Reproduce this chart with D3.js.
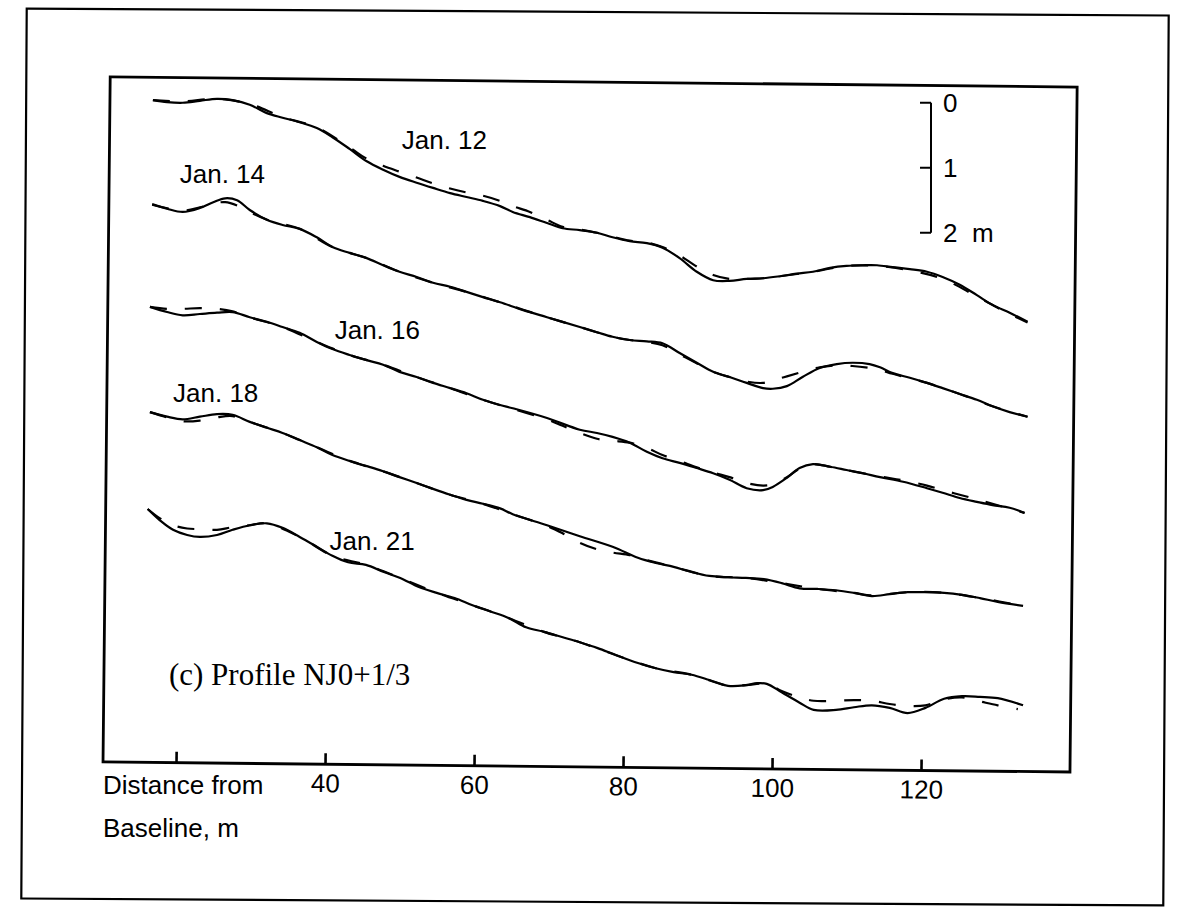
<!DOCTYPE html>
<html>
<head>
<meta charset="utf-8">
<script src="https://cdn.jsdelivr.net/npm/d3@7"></script>
<style>
  html, body { margin: 0; padding: 0; background: #fff; }
  svg { display: block; }
  .sans { font-family: "Liberation Sans", Arial, Helvetica, sans-serif; font-size: 26px; fill: #000; }
  .serif { font-family: "Liberation Serif", "Times New Roman", serif; font-size: 31px; fill: #000; }
</style>
</head>
<body>
<div id="chart"></div>
<script>
// Profiles: [distance from baseline (m), plotted depth (m)].
const dates = ["Jan. 12", "Jan. 14", "Jan. 16", "Jan. 18", "Jan. 21"];

const jan12Solid = [[16.9,0.31],[18.8,0.34],[20.9,0.35],[23.2,0.32],[25.5,0.29],[27.6,0.31],[29.9,0.38],[32.2,0.51],[34.3,0.58],[36.6,0.65],[38.9,0.74],[41.0,0.88],[43.3,1.06],[45.6,1.25],[47.8,1.38],[50.0,1.49],[52.3,1.58],[54.5,1.66],[56.8,1.74],[59.0,1.80],[61.2,1.86],[63.5,1.94],[65.2,2.03],[67.5,2.11],[69.8,2.20],[71.9,2.28],[74.2,2.31],[76.5,2.35],[78.6,2.42],[80.9,2.48],[83.2,2.51],[85.3,2.58],[87.6,2.74],[89.9,2.95],[92.1,3.08],[94.3,3.09],[96.6,3.06],[98.8,3.05],[101.0,3.02],[103.3,2.98],[105.5,2.95],[107.8,2.89],[110.0,2.86],[112.2,2.85],[114.1,2.85],[116.2,2.88],[118.5,2.91],[120.8,2.95],[122.9,3.03],[125.2,3.15],[127.5,3.31],[129.6,3.46],[131.9,3.58],[134.3,3.72]];
const jan12Dashed = [[16.9,0.31],[20.9,0.33],[25.5,0.29],[29.9,0.37],[34.3,0.57],[38.9,0.73],[43.3,1.04],[45.6,1.21],[47.8,1.32],[50.0,1.41],[52.3,1.50],[54.5,1.59],[56.8,1.67],[59.0,1.73],[61.2,1.78],[63.5,1.86],[65.2,1.94],[67.5,2.03],[69.8,2.15],[71.9,2.26],[74.2,2.30],[76.5,2.35],[78.6,2.41],[80.9,2.47],[83.2,2.50],[85.3,2.57],[87.6,2.70],[89.9,2.87],[92.1,3.00],[94.3,3.06],[96.6,3.06],[98.8,3.05],[101.0,3.02],[105.5,2.95],[110.0,2.86],[114.1,2.86],[118.5,2.93],[122.9,3.06],[127.5,3.33],[131.9,3.60],[134.3,3.73]];

const jan14Solid = [[16.8,1.91],[18.8,1.98],[20.9,2.03],[23.2,1.97],[25.0,1.88],[26.6,1.82],[28.2,1.85],[29.9,2.00],[32.2,2.15],[34.3,2.23],[36.6,2.29],[38.9,2.42],[41.0,2.57],[43.3,2.66],[45.6,2.74],[47.8,2.85],[50.0,2.95],[52.3,3.03],[54.5,3.12],[56.8,3.18],[59.0,3.26],[61.2,3.34],[63.5,3.42],[66.6,3.54],[69.8,3.65],[74.2,3.80],[76.5,3.88],[78.6,3.95],[80.9,4.00],[83.2,4.02],[85.3,4.05],[87.6,4.20],[89.9,4.35],[92.1,4.49],[94.3,4.57],[96.6,4.66],[98.8,4.74],[100.1,4.75],[102.0,4.71],[104.1,4.57],[106.4,4.43],[108.7,4.37],[110.8,4.35],[113.1,4.37],[114.5,4.42],[116.2,4.51],[118.5,4.58],[120.8,4.66],[122.9,4.74],[125.2,4.83],[127.5,4.92],[129.6,5.02],[131.9,5.11],[134.3,5.18]];
const jan14Dashed = [[16.8,1.92],[20.9,2.01],[23.2,1.96],[25.0,1.90],[26.6,1.88],[28.2,1.93],[29.9,2.03],[32.2,2.15],[36.6,2.29],[41.0,2.57],[45.6,2.74],[50.0,2.95],[54.5,3.12],[59.0,3.26],[63.5,3.42],[69.8,3.65],[74.2,3.80],[78.6,3.95],[80.9,4.00],[83.2,4.03],[85.3,4.08],[87.6,4.22],[89.9,4.36],[92.1,4.49],[94.3,4.57],[96.6,4.64],[98.8,4.66],[100.1,4.62],[102.0,4.56],[104.1,4.49],[106.4,4.42],[108.7,4.39],[110.8,4.40],[113.1,4.43],[114.5,4.46],[116.2,4.52],[120.8,4.66],[125.2,4.83],[129.6,5.02],[134.3,5.18]];

const jan16Solid = [[16.5,3.49],[18.8,3.57],[20.9,3.62],[23.2,3.60],[25.5,3.58],[27.6,3.57],[29.9,3.65],[32.2,3.72],[34.3,3.80],[36.6,3.89],[38.9,4.03],[41.0,4.14],[43.3,4.23],[45.6,4.31],[47.8,4.38],[50.0,4.49],[52.3,4.57],[54.5,4.66],[56.8,4.74],[59.0,4.82],[61.2,4.92],[63.5,5.00],[65.2,5.05],[69.8,5.20],[74.2,5.38],[76.5,5.43],[78.6,5.49],[80.9,5.58],[83.2,5.72],[85.3,5.82],[87.6,5.89],[89.9,5.97],[92.1,6.05],[94.3,6.15],[96.6,6.28],[98.8,6.31],[100.1,6.26],[102.0,6.12],[103.7,5.97],[105.5,5.91],[107.8,5.95],[110.0,6.00],[112.2,6.05],[114.5,6.11],[117.6,6.18],[120.8,6.28],[122.9,6.35],[125.2,6.43],[127.5,6.49],[129.6,6.54],[131.9,6.58],[133.9,6.66]];
const jan16Dashed = [[16.5,3.49],[18.8,3.52],[20.9,3.52],[23.2,3.51],[25.5,3.52],[27.6,3.56],[29.9,3.65],[34.3,3.80],[38.9,4.03],[43.3,4.23],[47.8,4.38],[52.3,4.57],[56.8,4.74],[61.2,4.92],[65.2,5.06],[69.8,5.22],[71.9,5.32],[74.2,5.43],[76.5,5.52],[78.6,5.55],[80.9,5.58],[83.2,5.66],[85.3,5.77],[87.6,5.86],[89.9,5.96],[92.1,6.04],[94.3,6.11],[96.6,6.20],[98.8,6.24],[100.1,6.22],[102.0,6.11],[103.7,5.98],[105.5,5.91],[107.8,5.95],[110.0,6.00],[114.5,6.10],[117.6,6.16],[120.8,6.24],[122.9,6.31],[125.2,6.38],[127.5,6.45],[129.6,6.52],[133.9,6.66]];

const jan18Solid = [[16.5,5.11],[18.8,5.18],[20.9,5.22],[23.2,5.18],[25.5,5.14],[27.6,5.15],[29.9,5.26],[32.2,5.35],[34.3,5.43],[36.6,5.54],[38.9,5.65],[41.0,5.77],[43.3,5.86],[45.6,5.94],[47.8,6.02],[50.0,6.11],[52.3,6.20],[54.5,6.29],[56.8,6.38],[59.0,6.46],[61.2,6.52],[63.5,6.59],[65.2,6.68],[69.8,6.85],[74.2,7.02],[78.6,7.18],[82.0,7.35],[84.4,7.43],[86.8,7.49],[89.2,7.57],[91.6,7.63],[94.1,7.65],[96.5,7.66],[98.9,7.68],[101.3,7.74],[103.7,7.82],[106.1,7.83],[108.6,7.85],[111.0,7.89],[113.4,7.94],[115.8,7.91],[118.2,7.88],[120.6,7.88],[123.1,7.89],[125.5,7.92],[127.9,7.97],[130.3,8.03],[133.7,8.09]];
const jan18Dashed = [[16.5,5.11],[18.8,5.19],[20.9,5.25],[23.2,5.24],[25.5,5.19],[27.6,5.17],[29.9,5.26],[34.3,5.43],[38.9,5.65],[43.3,5.86],[47.8,6.02],[52.3,6.20],[56.8,6.38],[61.2,6.52],[65.2,6.68],[69.8,6.86],[72.0,6.98],[74.2,7.12],[76.5,7.22],[78.6,7.27],[80.9,7.31],[82.0,7.35],[86.8,7.49],[91.6,7.63],[96.5,7.66],[101.3,7.74],[106.1,7.83],[111.0,7.89],[113.4,7.93],[118.2,7.88],[123.1,7.89],[127.9,7.97],[133.7,8.09]];

const jan21Solid = [[16.2,6.60],[17.8,6.77],[19.6,6.92],[21.5,7.00],[23.2,7.03],[25.5,7.00],[27.6,6.92],[29.9,6.85],[32.2,6.82],[34.3,6.89],[36.6,7.03],[38.9,7.18],[41.0,7.32],[43.1,7.42],[45.5,7.46],[47.9,7.57],[50.1,7.66],[52.6,7.80],[55.0,7.89],[57.4,7.97],[59.8,8.08],[62.3,8.18],[64.7,8.28],[67.0,8.42],[69.4,8.49],[71.8,8.57],[74.2,8.65],[76.6,8.74],[79.1,8.85],[82.0,8.97],[84.4,9.05],[86.8,9.11],[89.2,9.15],[91.6,9.23],[94.1,9.32],[96.5,9.31],[98.0,9.28],[99.3,9.29],[101.3,9.42],[103.7,9.58],[105.6,9.69],[108.6,9.69],[111.0,9.65],[113.4,9.62],[115.8,9.66],[118.2,9.74],[120.6,9.66],[123.1,9.52],[125.5,9.48],[127.9,9.49],[130.3,9.51],[133.7,9.62]];
const jan21Dashed = [[16.2,6.60],[17.8,6.74],[19.6,6.85],[21.5,6.90],[23.2,6.91],[25.5,6.92],[27.6,6.88],[29.9,6.85],[32.2,6.82],[36.6,7.03],[41.0,7.32],[45.5,7.46],[50.1,7.66],[55.0,7.89],[59.8,8.08],[64.7,8.28],[69.4,8.49],[74.2,8.65],[79.1,8.85],[84.4,9.05],[89.2,9.15],[94.1,9.32],[96.5,9.31],[99.3,9.29],[101.3,9.40],[103.7,9.50],[105.6,9.55],[108.6,9.55],[111.0,9.54],[113.4,9.55],[115.8,9.60],[118.2,9.63],[120.6,9.62],[123.1,9.53],[125.5,9.50],[127.9,9.56],[130.3,9.62],[133.0,9.68]];

// where each date label sits, in the same units (distance m, depth m of baseline)
const labelAt = [[50.3,1.06],[20.5,1.58],[41.3,3.98],[19.6,4.95],[40.6,7.23]];
const panelLabelAt = [19.05, 9.31];

const xTicks = [20, 40, 60, 80, 100, 120];
const scaleBarTicks = [0, 1, 2];
const scaleBarTop = 0.35; // depth (m) where the 0 of the scale bar sits

const solids = [jan12Solid, jan14Solid, jan16Solid, jan18Solid, jan21Solid];
const dashes = [jan12Dashed, jan14Dashed, jan16Dashed, jan18Dashed, jan21Dashed];

// ---- chart ----
const width = 1184, height = 909;

const x = d3.scaleLinear().domain([20, 120]).range([176, 921]);
const y = d3.scaleLinear().domain([0, 10]).range([80, 730]);

const svg = d3.select("#chart").append("svg")
    .attr("width", width)
    .attr("height", height)
    .attr("viewBox", [0, 0, width, height]);

svg.append("rect").attr("width", width).attr("height", height).attr("fill", "#fff");

// outer page frame (the scan is a touch rotated)
svg.append("rect")
    .attr("x", 24).attr("y", 12)
    .attr("width", 1142).attr("height", 890)
    .attr("transform", "rotate(0.35, 595, 457)")
    .attr("fill", "none")
    .attr("stroke", "#000")
    .attr("stroke-width", 2.2);

// plot frame + distance axis
const frame = svg.append("g").attr("transform", "rotate(0.6, 590, 767)");

frame.append("rect")
    .attr("x", 103).attr("y", 82)
    .attr("width", 967).attr("height", 685)
    .attr("fill", "none")
    .attr("stroke", "#000")
    .attr("stroke-width", 2.8);

const xAxis = frame.append("g")
    .attr("transform", "translate(0,767)")
    .call(d3.axisBottom(x)
        .tickValues(xTicks)
        .tickSize(-11)
        .tickFormat(d => d === 20 ? "" : d));

xAxis.select(".domain").remove();
xAxis.selectAll(".tick line").attr("stroke", "#000").attr("stroke-width", 2.6);
xAxis.selectAll(".tick text")
    .attr("class", "sans")
    .attr("y", 28)
    .attr("dy", null)
    .attr("font-family", null)
    .attr("font-size", null);
xAxis.attr("font-family", null).attr("font-size", null);

svg.append("text").attr("class", "sans").attr("x", 103).attr("y", 794).text("Distance from");
svg.append("text").attr("class", "sans").attr("x", 103).attr("y", 837).text("Baseline, m");

// profiles
const line = d3.line()
    .x(d => x(d[0]))
    .y(d => y(d[1]))
    .curve(d3.curveCatmullRom.alpha(0.5));

const profiles = svg.append("g").attr("fill", "none").attr("stroke", "#000");

profiles.selectAll("path.dashed")
    .data(dashes)
    .join("path")
    .attr("class", "dashed")
    .attr("d", line)
    .attr("stroke-width", 2.2)
    .attr("stroke-dasharray", "17,18");

profiles.selectAll("path.solid")
    .data(solids)
    .join("path")
    .attr("class", "solid")
    .attr("d", line)
    .attr("stroke-width", 2.2)
    .attr("stroke-linejoin", "round");

svg.selectAll("text.date")
    .data(dates)
    .join("text")
    .attr("class", "sans date")
    .attr("x", (d, i) => x(labelAt[i][0]))
    .attr("y", (d, i) => y(labelAt[i][1]))
    .text(d => d);

svg.append("text")
    .attr("class", "serif")
    .attr("x", x(panelLabelAt[0]))
    .attr("y", y(panelLabelAt[1]))
    .text("(c) Profile NJ0+1/3");

// vertical scale bar
const barX = 931;
const bar = svg.append("g").attr("stroke", "#000").attr("stroke-width", 2);

bar.append("line")
    .attr("x1", barX).attr("x2", barX)
    .attr("y1", y(scaleBarTop)).attr("y2", y(scaleBarTop + 2));

bar.selectAll("line.tick")
    .data(scaleBarTicks)
    .join("line")
    .attr("class", "tick")
    .attr("x1", barX - 11).attr("x2", barX)
    .attr("y1", d => y(scaleBarTop + d))
    .attr("y2", d => y(scaleBarTop + d));

svg.selectAll("text.bar")
    .data(scaleBarTicks)
    .join("text")
    .attr("class", "sans bar")
    .attr("x", barX + 12)
    .attr("y", d => y(scaleBarTop + d) + 9)
    .text(d => d === 2 ? "2\u00a0\u00a0m" : d);
</script>
</body>
</html>
